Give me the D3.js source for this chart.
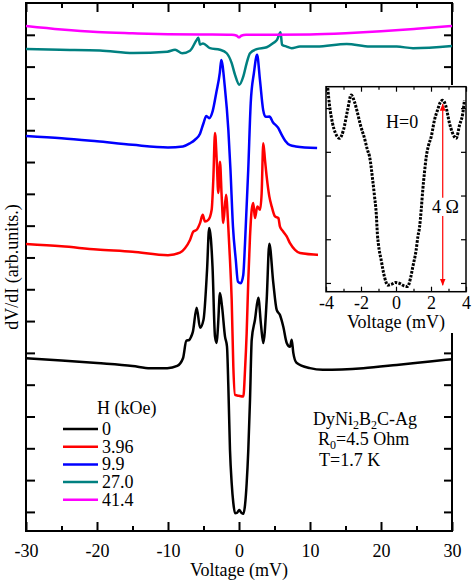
<!DOCTYPE html>
<html><head><meta charset="utf-8">
<script src="https://cdn.jsdelivr.net/npm/d3@7/dist/d3.min.js"></script>
<style>
body{margin:0;background:#fff}
svg text{font-family:"Liberation Serif","Times New Roman",Times,"DejaVu Serif",serif !important;fill:#000}
</style>
</head><body>
<svg id="c" width="473" height="584" style="font-family:'Liberation Serif','Times New Roman',serif"></svg>
<script>
// ---------- data ----------
const fields = ["0", "3.96", "9.9", "27.0", "41.4"];
const colors = ["#000000", "#ff0000", "#0000ff", "#008080", "#ff00ff"];

const xMajorTicks = [-30, -20, -10, 0, 10, 20, 30];
const xMinorTicks = [-25, -15, -5, 5, 15, 25];
const yTicks = [1, 2, 3, 4, 5, 6, 7, 8, 9, 10, 11, 12, 13, 14, 15, 16];

// H = 0 kOe (black)
const v0 = [-30,-25,-20,-15,-12.5,-10.1,-8.7,-7.89,-7.42,-7.0,-6.76,-6.5,-5.96,-5.49,-5.0,-4.5,-4.2,-3.73,-3.38,-3.14,-2.96,-2.68,-2.39,-1.97,-1.69,-1.50,-1.27,-1.03,-0.80,-0.56,-0.28,0.04,0.35,0.61,0.85,1.08,1.31,1.55,1.79,2.25,2.72,3.10,3.42,3.90,4.27,4.83,5.31,5.77,6.24,6.72,7.18,7.42,7.65,8.1,10,11.8,17.5,22.2,26.9,30];
const r0 = [5.83,5.76,5.68,5.59,5.52,5.52,5.59,5.83,6.38,6.41,6.50,6.66,7.42,6.79,7.04,8.61,9.93,8.71,6.51,6.31,6.83,7.88,7.46,6.51,6.20,4.94,2.95,1.90,1.28,0.96,0.97,1.06,0.97,0.94,1.22,1.90,2.95,4.52,6.41,7.04,7.73,6.88,6.31,7.67,9.43,8.20,7.35,7.19,6.82,6.31,6.19,6.41,6.00,5.69,5.52,5.47,5.52,5.62,5.73,5.80];

// H = 3.96 kOe (red)
const v1 = [-30,-25,-20,-15,-10,-8.31,-7.61,-6.90,-6.44,-5.96,-5.49,-5.11,-4.79,-4.32,-3.85,-3.62,-3.38,-3.14,-2.92,-2.68,-2.44,-2.21,-1.83,-1.51,-1.27,-1.03,-0.80,-0.56,0,0.61,0.85,1.08,1.31,1.55,1.79,2.01,2.25,2.58,2.96,3.19,3.42,3.66,3.90,4.27,4.61,5.07,5.54,5.77,6.24,6.72,7.18,7.89,8.59,11.4];
const r1 = [9.42,9.35,9.25,9.18,9.07,9.15,9.29,9.55,9.81,9.87,10.08,10.34,10.13,10.18,10.50,11.44,12.91,12.07,11.03,12.01,10.92,10.08,10.97,9.97,8.92,7.67,5.57,4.68,4.65,4.63,5.47,6.62,8.30,9.66,10.50,10.71,10.24,10.60,10.50,11.02,12.59,12.07,11.54,10.92,10.60,10.29,10.24,9.97,9.81,9.66,9.45,9.24,9.14,9.08];

// H = 9.9 kOe (blue)
const v2 = [-30,-25,-20,-15,-10,-7.9,-6.9,-6.2,-5.49,-5.0,-4.6,-4.2,-3.7,-3.2,-2.7,-2.5,-2.0,-1.5,-1.2,-0.85,-0.45,-0.15,0.25,0.6,0.85,1.3,1.65,2.1,2.55,2.95,3.4,3.75,4.3,4.75,5.5,6.0,6.5,7.2,8.0,11.0];
const r2 = [12.82,12.75,12.65,12.54,12.46,12.49,12.59,12.70,12.89,13.22,13.45,13.38,13.61,14.18,14.81,15.21,14.37,13.01,11.75,9.97,8.92,8.24,8.19,8.45,9.46,11.75,13.85,14.80,15.37,14.58,13.64,13.42,13.43,13.26,13.08,12.86,12.67,12.53,12.49,12.44];

// H = 27.0 kOe (teal)
const v3 = [-30,-25.2,-19.6,-14.9,-10.1,-9.0,-8.0,-6.9,-5.96,-5.73,-5.49,-5.07,-4.08,-2.68,-1.73,-1.03,-0.56,0.04,0.61,1.08,1.55,2.49,3.90,4.83,5.35,5.85,6.06,6.72,7.42,8.59,10.94,15.17,18.45,22.21,24.51,30];
const r3 = [15.55,15.53,15.51,15.43,15.47,15.53,15.42,15.50,15.84,15.91,15.69,15.73,15.58,15.53,15.42,15.11,14.74,14.43,14.69,15.11,15.42,15.55,15.61,15.74,15.84,16.08,15.69,15.63,15.58,15.63,15.63,15.71,15.63,15.63,15.58,15.65];

// H = 41.4 kOe (magenta)
const v4 = [-30,-25,-20,-15,-10,-5,-1,-0.3,0,0.3,1,5,10,15,20,25,30];
const r4 = [16.28,16.17,16.09,16.05,16.02,16.01,16.00,15.97,15.92,15.97,16.00,16.00,16.01,16.05,16.11,16.19,16.28];

// inset: H = 0, dV/dI in Ohm (offset) vs voltage in mV
const insetXMajor = [-4, -2, 0, 2, 4];
const insetXMinor = [-3, -1, 1, 3];
const insetYTicks = [0, 1, 2, 3, 4];
const insetV = [-3.90,-3.80,-3.63,-3.46,-3.23,-3.0,-2.77,-2.56,-2.37,-2.2,-2.03,-1.80,-1.63,-1.51,-1.33,-1.23,-1.13,-1.06,-1.0,-0.85,-0.66,-0.47,-0.26,-0.03,0.2,0.43,0.66,0.83,0.96,1.15,1.25,1.34,1.44,1.53,1.63,1.73,1.86,2.01,2.2,2.37,2.54,2.67,2.83,3.06,3.23,3.44,3.63,3.82,3.91];
const insetR = [4.46,4.07,3.66,3.43,3.31,3.50,3.95,4.30,4.14,3.89,3.61,3.31,3.04,2.89,2.35,1.99,1.60,1.10,0.87,0.53,0.14,-0.05,-0.03,0.01,-0.01,-0.06,-0.08,0.11,0.37,0.75,1.06,1.26,1.67,2.13,2.54,2.89,3.15,3.34,3.73,3.95,4.14,4.18,4.07,3.65,3.43,3.31,3.61,3.89,4.18];
const arrowV = 2.67, arrowTop = 4.09, arrowBottom = -0.05, arrowGapLow = 1.53, arrowGapHigh = 1.95;

// ---------- drawing ----------
const svg = d3.select("#c");
const FS = 18;
const FF = "'Liberation Serif','Times New Roman',Times,serif";

const x = d3.scaleLinear().domain([-30, 30]).range([26, 452]);
const y = d3.scaleLinear().domain([0.4, 17.0]).range([531, 3]);

function styleAxis(g, w) {
  g.attr("font-family", null);
  g.select(".domain").remove();
  g.selectAll(".tick line").attr("stroke", "#000").attr("stroke-width", w);
  g.selectAll(".tick text").attr("font-size", FS).style("font-family", FF).attr("fill", "#000");
}
function txt(sel) { return sel.append("text").style("font-family", FF).attr("font-size", FS); }

// main axes
svg.append("g").attr("transform", "translate(0,531)")
  .call(d3.axisBottom(x).tickValues(xMajorTicks).tickSize(-9).tickPadding(13).tickFormat(d => String(d)))
  .call(g => styleAxis(g, 2));
svg.append("g").attr("transform", "translate(0,531)")
  .call(d3.axisBottom(x).tickValues(xMinorTicks).tickSize(-5).tickFormat(""))
  .call(g => styleAxis(g, 2));
svg.append("g").attr("transform", "translate(0,3)")
  .call(d3.axisTop(x).tickValues(xMajorTicks).tickSize(-9).tickFormat(""))
  .call(g => styleAxis(g, 2));
svg.append("g").attr("transform", "translate(0,3)")
  .call(d3.axisTop(x).tickValues(xMinorTicks).tickSize(-5).tickFormat(""))
  .call(g => styleAxis(g, 2));
svg.append("g").attr("transform", "translate(26,0)")
  .call(d3.axisLeft(y).tickValues(yTicks).tickSize(-9).tickFormat(""))
  .call(g => styleAxis(g, 2));
svg.append("g").attr("transform", "translate(452,0)")
  .call(d3.axisRight(y).tickValues(yTicks).tickSize(-8).tickFormat(""))
  .call(g => styleAxis(g, 2));

svg.append("rect").attr("x", x(-30)).attr("y", y(17)).attr("width", x(30) - x(-30)).attr("height", y(0.4) - y(17))
  .attr("fill", "none").attr("stroke", "#000").attr("stroke-width", 2);

// curves
const series = [[v0, r0], [v1, r1], [v2, r2], [v3, r3], [v4, r4]];
const line = d3.line().x(d => x(d[0])).y(d => y(d[1])).curve(d3.curveMonotoneX);
series.forEach((s, i) => {
  const pts = s[0].map((v, k) => [v, s[1][k]]);
  svg.append("path").datum(pts).attr("d", line)
    .attr("fill", "none").attr("stroke", colors[i]).attr("stroke-width", 2.5)
    .attr("stroke-linejoin", "round");
});

// axis titles
txt(svg).attr("x", 239).attr("y", 576).attr("text-anchor", "middle").text("Voltage (mV)");
txt(svg).attr("transform", "translate(18,267) rotate(-90)").attr("text-anchor", "middle").text("dV/dI (arb.units.)");

// legend
txt(svg).attr("x", 97).attr("y", 414).text("H (kOe)");
fields.forEach((f, i) => {
  const ly = 429 + i * 17.7;
  svg.append("line").attr("x1", 63).attr("x2", 98).attr("y1", ly).attr("y2", ly)
    .attr("stroke", colors[i]).attr("stroke-width", 2.5);
  txt(svg).attr("x", 102).attr("y", ly + 6).text(f);
});

// annotation
const t1 = txt(svg).attr("x", 313).attr("y", 425);
t1.append("tspan").text("DyNi");
t1.append("tspan").attr("font-size", 12).attr("dy", 4).text("2");
t1.append("tspan").attr("dy", -4).text("B");
t1.append("tspan").attr("font-size", 12).attr("dy", 4).text("2");
t1.append("tspan").attr("dy", -4).text("C-Ag");
const t2 = txt(svg).attr("x", 318).attr("y", 445);
t2.append("tspan").text("R");
t2.append("tspan").attr("font-size", 12).attr("dy", 4).text("0");
t2.append("tspan").attr("dy", -4).text("=4.5 Ohm");
txt(svg).attr("x", 319).attr("y", 466).text("T=1.7 K");

// ---------- inset ----------
const ix = d3.scaleLinear().domain([-4, 4]).range([326, 466]);
const iy = d3.scaleLinear().domain([-0.2, 4.49]).range([291.7, 86.7]);

svg.append("rect").attr("x", 318).attr("y", 85).attr("width", 155).attr("height", 248).attr("fill", "#fff");

const ig = svg.append("g");
ig.append("g").attr("transform", "translate(0," + iy(-0.2) + ")")
  .call(d3.axisBottom(ix).tickValues(insetXMajor).tickSize(-5).tickPadding(5).tickFormat(d => String(d)))
  .call(g => styleAxis(g, 1.2));
ig.append("g").attr("transform", "translate(0," + iy(-0.2) + ")")
  .call(d3.axisBottom(ix).tickValues(insetXMinor).tickSize(-3).tickFormat(""))
  .call(g => styleAxis(g, 1.2));
ig.append("g").attr("transform", "translate(0," + iy(4.49) + ")")
  .call(d3.axisTop(ix).tickValues(insetXMajor).tickSize(-5).tickFormat(""))
  .call(g => styleAxis(g, 1.2));
ig.append("g").attr("transform", "translate(0," + iy(4.49) + ")")
  .call(d3.axisTop(ix).tickValues(insetXMinor).tickSize(-3).tickFormat(""))
  .call(g => styleAxis(g, 1.2));
ig.append("g").attr("transform", "translate(" + ix(-4) + ",0)")
  .call(d3.axisLeft(iy).tickValues(insetYTicks).tickSize(-5).tickFormat(""))
  .call(g => styleAxis(g, 1.2));
ig.append("g").attr("transform", "translate(" + ix(4) + ",0)")
  .call(d3.axisRight(iy).tickValues(insetYTicks).tickSize(-5).tickFormat(""))
  .call(g => styleAxis(g, 1.2));
ig.append("rect").attr("x", ix(-4)).attr("y", iy(4.49)).attr("width", ix(4) - ix(-4)).attr("height", iy(-0.2) - iy(4.49))
  .attr("fill", "none").attr("stroke", "#000").attr("stroke-width", 1.5);

const ipts = insetV.map((v, k) => [v, insetR[k]]);
ig.append("path").datum(ipts)
  .attr("d", d3.line().x(d => ix(d[0])).y(d => iy(d[1])).curve(d3.curveMonotoneX))
  .attr("fill", "none").attr("stroke", "#000").attr("stroke-width", 3)
  .attr("stroke-dasharray", "2.6,1.3");

txt(ig).attr("x", (ix(-4) + ix(4)) / 2).attr("y", 328).attr("text-anchor", "middle").text("Voltage (mV)");
txt(ig).attr("x", 386).attr("y", 128).text("H=0");
txt(ig).attr("x", 432).attr("y", 213).text("4 \u03A9");

// red double arrow
const defs = svg.append("defs");
defs.append("marker").attr("id", "ah").attr("viewBox", "0 0 10 10").attr("refX", 9).attr("refY", 5)
  .attr("markerWidth", 6).attr("markerHeight", 8).attr("orient", "auto-start-reverse")
  .append("path").attr("d", "M0,1 L10,5 L0,9 Z").attr("fill", "#ff0000");
ig.append("line").attr("x1", ix(arrowV)).attr("x2", ix(arrowV)).attr("y1", iy(arrowGapHigh)).attr("y2", iy(arrowTop))
  .attr("stroke", "#ff0000").attr("stroke-width", 1.2).attr("marker-end", "url(#ah)");
ig.append("line").attr("x1", ix(arrowV)).attr("x2", ix(arrowV)).attr("y1", iy(arrowGapLow)).attr("y2", iy(arrowBottom))
  .attr("stroke", "#ff0000").attr("stroke-width", 1.2).attr("marker-end", "url(#ah)");
</script>
</body></html>
